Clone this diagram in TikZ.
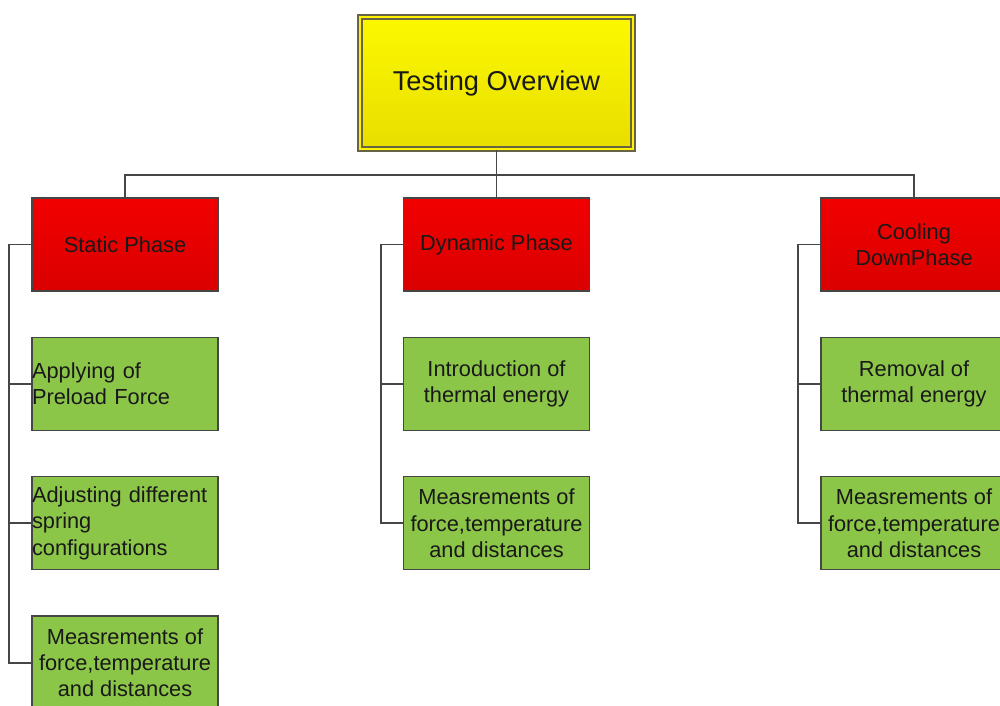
\documentclass[tikz,border=0pt]{standalone}
\usepackage{fontspec}
\setmainfont{Liberation Sans}
\usetikzlibrary{positioning}
\definecolor{topyel}{RGB}{252,248,0}
\definecolor{botyel}{RGB}{232,222,0}
\definecolor{phred}{RGB}{242,0,0}
\definecolor{phreddk}{RGB}{218,0,0}
\definecolor{taskgrn}{RGB}{140,198,72}
\definecolor{edgegray}{RGB}{70,70,70}
\tikzset{
  basebox/.style={draw=edgegray, line width=0.8pt, minimum width=3.72cm, minimum height=1.86cm,
    inner xsep=0pt, font=\fontsize{12.4}{14.9}\selectfont, text=black!90, align=center},
  phase/.style={basebox, top color=phred, bottom color=phreddk},
  task/.style={basebox, fill=taskgrn},
  tasklft/.style={task, text width=3.72cm, align=left},
  title/.style={draw=black!55!yellow!70!black, line width=0.8pt, double=yellow, double distance=1.6pt,
    top color=topyel, bottom color=botyel, minimum width=5.46cm, minimum height=2.64cm,
    font=\fontsize{15.5}{18}\selectfont, text=black!90},
  link/.style={draw=edgegray, line width=1.1pt},
}

\begin{document}
\begin{tikzpicture}[x=0.02cm, y=-0.02cm, node distance=0.9cm]
    \clip (0,0) rectangle (1000,706);
    \useasboundingbox (0,0) rectangle (1000,706);
    \node[title] (top) at (496.5,83) {Testing Overview};
    \coordinate (bus) at (496.5,175);

    \node[phase] (stat) at (125,244.5) {Static Phase};
    \node[tasklft, below=of stat] (s1) {Applying of\\Preload Force};
    \node[tasklft, below=of s1] (s2) {Adjusting different\\spring\\configurations};
    \node[task, below=of s2] (s3) {Measrements of\\force,temperature\\and distances};

    \node[phase] (dyn) at (496.5,244.5) {Dynamic Phase};
    \node[task, below=of dyn] (d1) {Introduction of\\thermal energy};
    \node[task, below=of d1] (d2) {Measrements of\\force,temperature\\and distances};

    \node[phase] (cool) at (914,244.5) {Cooling\\DownPhase};
    \node[task, below=of cool] (c1) {Removal of\\thermal energy};
    \node[task, below=of c1] (c2) {Measrements of\\force,temperature\\and distances};

    \draw[link] (stat.north) |- (bus) -| (cool.north);
    \draw[link] (top.south) -- (dyn.north);
    \foreach \p/\c in {stat/s1, stat/s2, stat/s3, dyn/d1, dyn/d2, cool/c1, cool/c2}
      \draw[link] (\p.west) -- ++(-22,0) |- (\c.west);
  \end{tikzpicture}
\end{document}
